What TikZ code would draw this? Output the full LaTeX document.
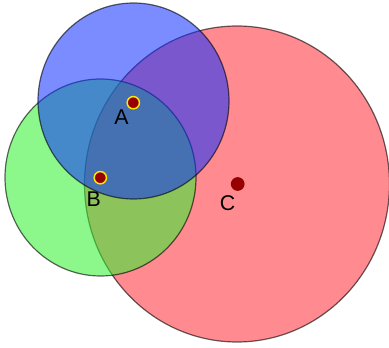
\documentclass[tikz,border=0pt]{standalone}
\usepackage{fontspec}
\setmainfont{Liberation Sans}
\definecolor{setred}{RGB}{255,42,53}
\definecolor{setgreen}{RGB}{46,243,46}
\definecolor{setblue}{RGB}{13,46,255}
\definecolor{dotred}{RGB}{150,0,0}
\begin{document}
\begin{tikzpicture}[x=0.75pt,y=-0.75pt,
  disc/.style={draw=black,draw opacity=0.6,line width=0.9pt,fill opacity=0.55},
  centre/.style={circle,fill=dotred,inner sep=0pt,minimum size=10.3pt},
  marked/.style={centre,minimum size=9.2pt,draw=yellow!90!orange,line width=1.1pt},
  letter/.style={font=\fontsize{16}{16}\selectfont,inner sep=0pt}]
 \useasboundingbox (0,0) rectangle (389,348);
 \coordinate (cA) at (133.5,101);
 \coordinate (cB) at (100.5,177.5);
 \coordinate (cC) at (237,184);
 \draw[disc,fill=setred] (cC) ellipse [x radius=152.5,y radius=158];
 \draw[disc,fill=setgreen] (cB) ellipse [x radius=95.5,y radius=98.5];
 \draw[disc,fill=setblue] (cA) ellipse [x radius=95.5,y radius=98];
 \node[marked] (A) at (133.3,102.7) {};
 \node[marked] (B) at (100.3,177.7) {};
 \node[centre] (C) at (237.7,184) {};
 \node[letter] (labA) at (121.5,116.7) {A};
 \node[letter] (labB) at (93.7,198.7) {B};
 \node[letter] (labC) at (227.7,203.3) {C};
\end{tikzpicture}
\end{document}
